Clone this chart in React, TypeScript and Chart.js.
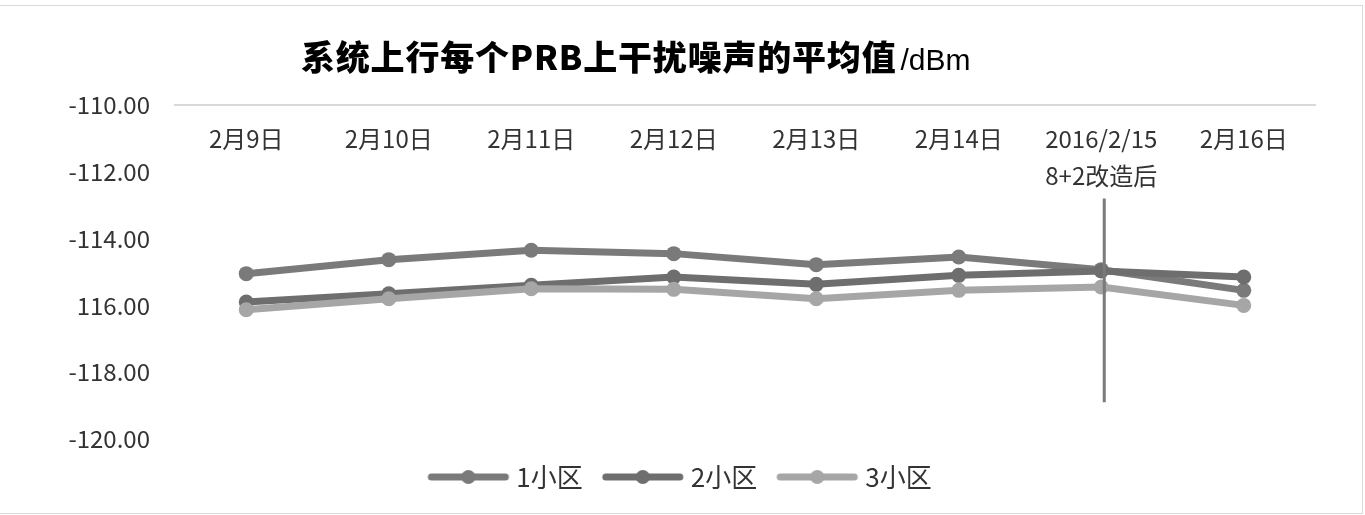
import React, { useEffect, useRef } from 'react';
import { Chart, registerables } from 'chart.js';

Chart.register(...registerables);

const categories: (string | string[])[] = [
  '2月9日', '2月10日', '2月11日', '2月12日', '2月13日', '2月14日', ['2016/2/15', '8+2改造后'], '2月16日',
];
const seriesNames = ['1小区', '2小区', '3小区'];
const cell1 = [-115.05, -114.63, -114.35, -114.45, -114.78, -114.55, -114.93, -115.55];
const cell2 = [-115.9, -115.65, -115.4, -115.15, -115.37, -115.1, -114.97, -115.15];
const cell3 = [-116.13, -115.8, -115.5, -115.52, -115.8, -115.55, -115.45, -116.0];
const yTickLabels = ['-120.00', '-118.00', '116.00', '-114.00', '-112.00', '-110.00'];
const yMin = -120;
const yMax = -110;
const yStep = 2;
const markerCategory = 6;
const markerRange = [-112.8, -118.9];
const titleMain = '系统上行每个PRB上干扰噪声的平均值';
const titleUnit = '/dBm';

const colors = ['#7a7a7a', '#6e6e6e', '#a6a6a6'];
const FONT = "'Noto Sans CJK SC', 'Noto Sans', sans-serif";

function makeSample(color: string): HTMLCanvasElement {
  const c = document.createElement('canvas');
  c.width = 84;
  c.height = 16;
  const g = c.getContext('2d')!;
  g.strokeStyle = color;
  g.lineWidth = 7;
  g.lineCap = 'round';
  g.beginPath();
  g.moveTo(5, 8);
  g.lineTo(79, 8);
  g.stroke();
  g.fillStyle = color;
  g.beginPath();
  g.arc(42, 8, 7, 0, Math.PI * 2);
  g.fill();
  return c;
}

const markerPlugin = {
  id: 'markerLine',
  afterDatasetsDraw(chart: any) {
    const { ctx, scales } = chart;
    const x = scales.x.getPixelForValue(markerCategory) + 3;
    const y1 = scales.y.getPixelForValue(markerRange[0]);
    const y2 = scales.y.getPixelForValue(markerRange[1]);
    ctx.save();
    ctx.strokeStyle = '#7a7a7a';
    ctx.lineWidth = 3;
    ctx.beginPath();
    ctx.moveTo(x, y1);
    ctx.lineTo(x, y2);
    ctx.stroke();
    ctx.restore();
  },
};

export default function App() {
  const ref = useRef<HTMLCanvasElement | null>(null);

  useEffect(() => {
    if (!ref.current) return;
    const samples = colors.map(makeSample);
    const data = [cell1, cell2, cell3];
    const chart = new Chart(ref.current, {
      type: 'line',
      data: {
        labels: categories,
        datasets: data.map((d, i) => ({
          label: seriesNames[i],
          data: d,
          borderColor: colors[i],
          backgroundColor: colors[i],
          pointBackgroundColor: colors[i],
          pointBorderWidth: 0,
          pointRadius: 7.5,
          borderWidth: 7,
          tension: 0,
          fill: false,
          order: 2 - i,
        })),
      },
      options: {
        animation: false,
        responsive: false,
        devicePixelRatio: 1,
        layout: { padding: { left: 50, right: 50, top: 105, bottom: 15 } },
        scales: {
          x: {
            type: 'category',
            position: { y: yMax } as any,
            offset: true,
            grid: { display: false, drawTicks: false },
            border: { display: true, color: '#d9d9d9', width: 2 },
            ticks: {
              color: '#333333',
              font: { size: 24, family: FONT, lineHeight: 1.55 },
              padding: 15,
              maxRotation: 0,
              autoSkip: false,
            },
          },
          y: {
            position: 'left',
            min: yMin,
            max: yMax,
            grid: { display: false, drawTicks: false },
            border: { display: false },
            afterFit: (s: any) => {
              s.width = 125;
            },
            ticks: {
              stepSize: yStep,
              padding: 25,
              color: '#333333',
              font: { size: 24, family: FONT },
              callback: (_v: any, i: number) => yTickLabels[i],
            },
          },
        },
        plugins: {
          title: { display: false },
          tooltip: { enabled: false },
          legend: {
            display: true,
            position: 'bottom',
            labels: {
              usePointStyle: true,
              pointStyleWidth: 70,
              padding: 25,
              color: '#333333',
              font: { size: 26, family: FONT },
              sort: (a: any, b: any) => a.datasetIndex - b.datasetIndex,
              generateLabels: (ch: any) => {
                const items = Chart.defaults.plugins.legend.labels.generateLabels(ch);
                return items.map((it: any) => ({ ...it, pointStyle: samples[it.datasetIndex] }));
              },
            },
          },
        },
      },
      plugins: [markerPlugin],
    });
    return () => chart.destroy();
  }, []);

  return (
    <div style={{ position: 'fixed', left: 0, top: 0, width: 1365, height: 515, background: '#fff', overflow: 'hidden' }}>
      <div
        style={{
          position: 'absolute',
          left: -1,
          top: 5,
          width: 1364,
          height: 509,
          border: '1px solid #d9d9d9',
          boxSizing: 'border-box',
        }}
      />
      <canvas ref={ref} width={1365} height={515} style={{ position: 'absolute', left: 0, top: 0 }} />
      <div
        style={{
          position: 'absolute',
          left: 301,
          top: 36,
          whiteSpace: 'nowrap',
          lineHeight: '40px',
          color: '#000',
        }}
      >
        <span style={{ fontFamily: FONT, fontWeight: 900, fontSize: 34, letterSpacing: '0.8px' }}>{titleMain}</span>
        <span style={{ fontFamily: "'Liberation Sans', Arial, sans-serif", fontWeight: 400, fontSize: 30, marginLeft: 4 }}>
          {titleUnit}
        </span>
      </div>
    </div>
  );
}
